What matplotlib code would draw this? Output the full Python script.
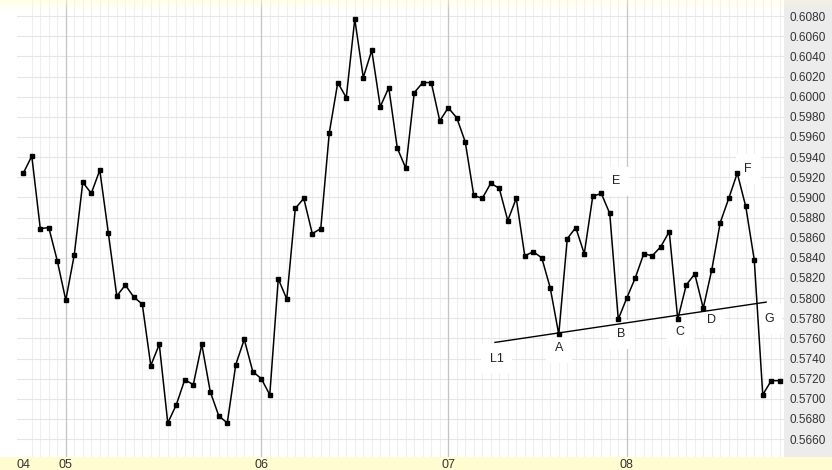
import numpy as np
import matplotlib.pyplot as plt
from matplotlib.patches import Rectangle

plt.rcParams['font.family'] = ['Liberation Sans', 'DejaVu Sans']

# closing prices, one per bar
prices = [
    0.5924, 0.5941, 0.5869, 0.5870, 0.5837, 0.5798, 0.5843, 0.5915, 0.5904, 0.5927,
    0.5865, 0.5802, 0.5813, 0.5801, 0.5794, 0.5733, 0.5754, 0.5676, 0.5694, 0.5719,
    0.5714, 0.5754, 0.5707, 0.5683, 0.5676, 0.5734, 0.5759, 0.5727, 0.5720, 0.5704,
    0.5819, 0.5799, 0.5889, 0.5899, 0.5864, 0.5869, 0.5964, 0.6014, 0.5999, 0.6077,
    0.6019, 0.6046, 0.5990, 0.6009, 0.5949, 0.5929, 0.6004, 0.6014, 0.6014, 0.5976,
    0.5989, 0.5979, 0.5955, 0.5902, 0.5899, 0.5914, 0.5909, 0.5877, 0.5899, 0.5842,
    0.5846, 0.5840, 0.5810, 0.5764, 0.5859, 0.5870, 0.5844, 0.5901, 0.5904, 0.5884,
    0.5779, 0.5800, 0.5820, 0.5844, 0.5842, 0.5851, 0.5866, 0.5779, 0.5813, 0.5824,
    0.5790, 0.5828, 0.5875, 0.5899, 0.5924, 0.5891, 0.5838, 0.5704, 0.5718, 0.5718,
]
month_labels = ['04', '05', '06', '07', '08']
month_pos = [0, 5, 28, 50, 71]

# trend line L1
trend_x = [55.5, 87.4]
trend_y = [0.5756, 0.5796]

# annotation letters
pivot_names = ['L1', 'A', 'B', 'C', 'D', 'E', 'F', 'G']
pivot_x = [55.7, 63.0, 70.4, 77.3, 81.0, 69.7, 85.3, 87.7]
pivot_y = [0.5740, 0.5750, 0.5764, 0.5766, 0.5778, 0.5916, 0.5928, 0.5779]

y_ticks = np.round(np.arange(0.5660, 0.60801, 0.002), 4)

W, H = 832, 470
fig = plt.figure(figsize=(W / 100, H / 100), dpi=100)
fig.patch.set_facecolor('white')

# background strips (behind the axes)
fig.patches.append(Rectangle((784 / W, 13 / H), 48 / W, 457 / H,
                             transform=fig.transFigure, fc='#ececec', ec='none', zorder=-2))
fig.patches.append(Rectangle((0, 0), 1, 13 / H,
                             transform=fig.transFigure, fc='#fffcd2', ec='none', zorder=-2))

ax = fig.add_axes([17 / W, 13 / H, (784 - 17) / W, (470 - 13) / H])
ax.set_facecolor('white')
x = np.arange(len(prices))
ax.plot(x, prices, color='black', lw=1.1, marker='s', ms=2.2, zorder=4)
ax.plot(trend_x, trend_y, color='black', lw=1.0, zorder=4)

for name, px, py in zip(pivot_names, pivot_x, pivot_y):
    ax.text(px, py, name, fontsize=9, color='#222222', ha='center', va='center', zorder=2,
            bbox=dict(boxstyle='square,pad=0.7', fc='white', ec='none'))

ax.set_xlim(-0.74, 89.5)
ax.set_ylim(0.56422, 0.60960)

ax.set_xticks(month_pos)
ax.set_xticklabels(month_labels, fontsize=9, color='#333333')
ax.set_xticks(x, minor=True)
ax.yaxis.tick_right()
ax.set_yticks(y_ticks)
ax.set_yticklabels([f'{v:.4f}' for v in y_ticks], fontsize=8.5, color='#333333')
ax.tick_params(axis='both', which='both', length=0)
ax.tick_params(axis='x', pad=1.5)
ax.tick_params(axis='y', pad=4)

ax.set_axisbelow(True)
ax.grid(True, axis='x', which='minor', color='#efefef', lw=0.8)
ax.grid(True, axis='y', which='major', color='#e6e6e6', lw=0.8)
for p in month_pos[1:]:
    ax.axvline(p, color='#c4c4c4', lw=0.9, zorder=0.6)

for s in ax.spines.values():
    s.set_visible(False)

# pale yellow fade along the top edge
fade = fig.add_axes([0, 1 - 12 / H, 1, 12 / H])
grad = np.zeros((12, 100, 4))
grad[..., 0] = 1.0
grad[..., 1] = 1.0
grad[..., 2] = 0.82
grad[..., 3] = np.linspace(0.55, 0.0, 12)[:, None] * np.linspace(1.0, 0.5, 100)[None, :]
fade.imshow(grad, aspect='auto', extent=[0, 1, 0, 1])
fade.axis('off')

fig.savefig('out.png', dpi=100)
